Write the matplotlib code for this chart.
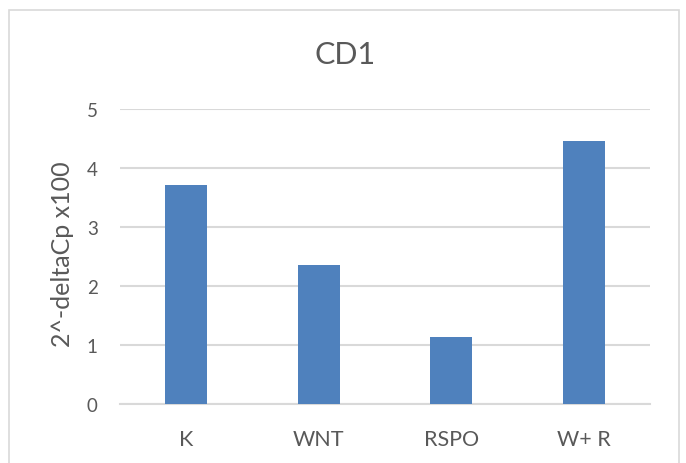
import matplotlib.pyplot as plt
from matplotlib.patches import Rectangle

categories = ["K", "WNT", "RSPO", "W+ R"]
values = [3.72, 2.35, 1.14, 4.46]
yticks = [0, 1, 2, 3, 4, 5]

bar_color = "#4F81BD"
grid_color = "#D9D9D9"
text_color = "#595959"

plt.rcParams["font.family"] = ["Lato", "DejaVu Sans"]

fig = plt.figure(figsize=(6.86, 4.64), dpi=100)
ax = fig.add_axes([120 / 686, 1 - 405 / 464, 530 / 686, 295 / 464])

# outer chart border, cut off at the bottom like the screenshot
fig.patches.append(Rectangle((9 / 686, -0.05), 670 / 686, 1.05 - 11 / 464,
                             transform=fig.transFigure, fill=False,
                             edgecolor=grid_color, linewidth=1.2))

x = range(len(categories))
ax.bar(x, values, width=0.32, color=bar_color, zorder=3)

ax.set_xlim(-0.5, len(categories) - 0.5)
ax.set_ylim(0, 5)
ax.set_yticks(yticks)
ax.set_xticks(list(x))
ax.set_xticklabels(categories)
ax.yaxis.grid(True, color=grid_color, linewidth=1.5, zorder=0)
for s in ["top", "right", "left"]:
    ax.spines[s].set_visible(False)
ax.spines["bottom"].set_color(grid_color)
ax.spines["bottom"].set_linewidth(1.5)
ax.tick_params(axis="both", length=0, colors=text_color)
ax.tick_params(axis="x", pad=18, labelsize=15.5)
ax.tick_params(axis="y", pad=16, labelsize=13.5)

fig.text(63 / 686, 1 - 254 / 464, "2^-deltaCp x100", rotation=90,
         ha="center", va="center", fontsize=18, color=text_color)
fig.text(345 / 686, 1 - 55 / 464, "CD1", ha="center",
         va="center", fontsize=22, color=text_color)

fig.savefig("out.png", dpi=100)
